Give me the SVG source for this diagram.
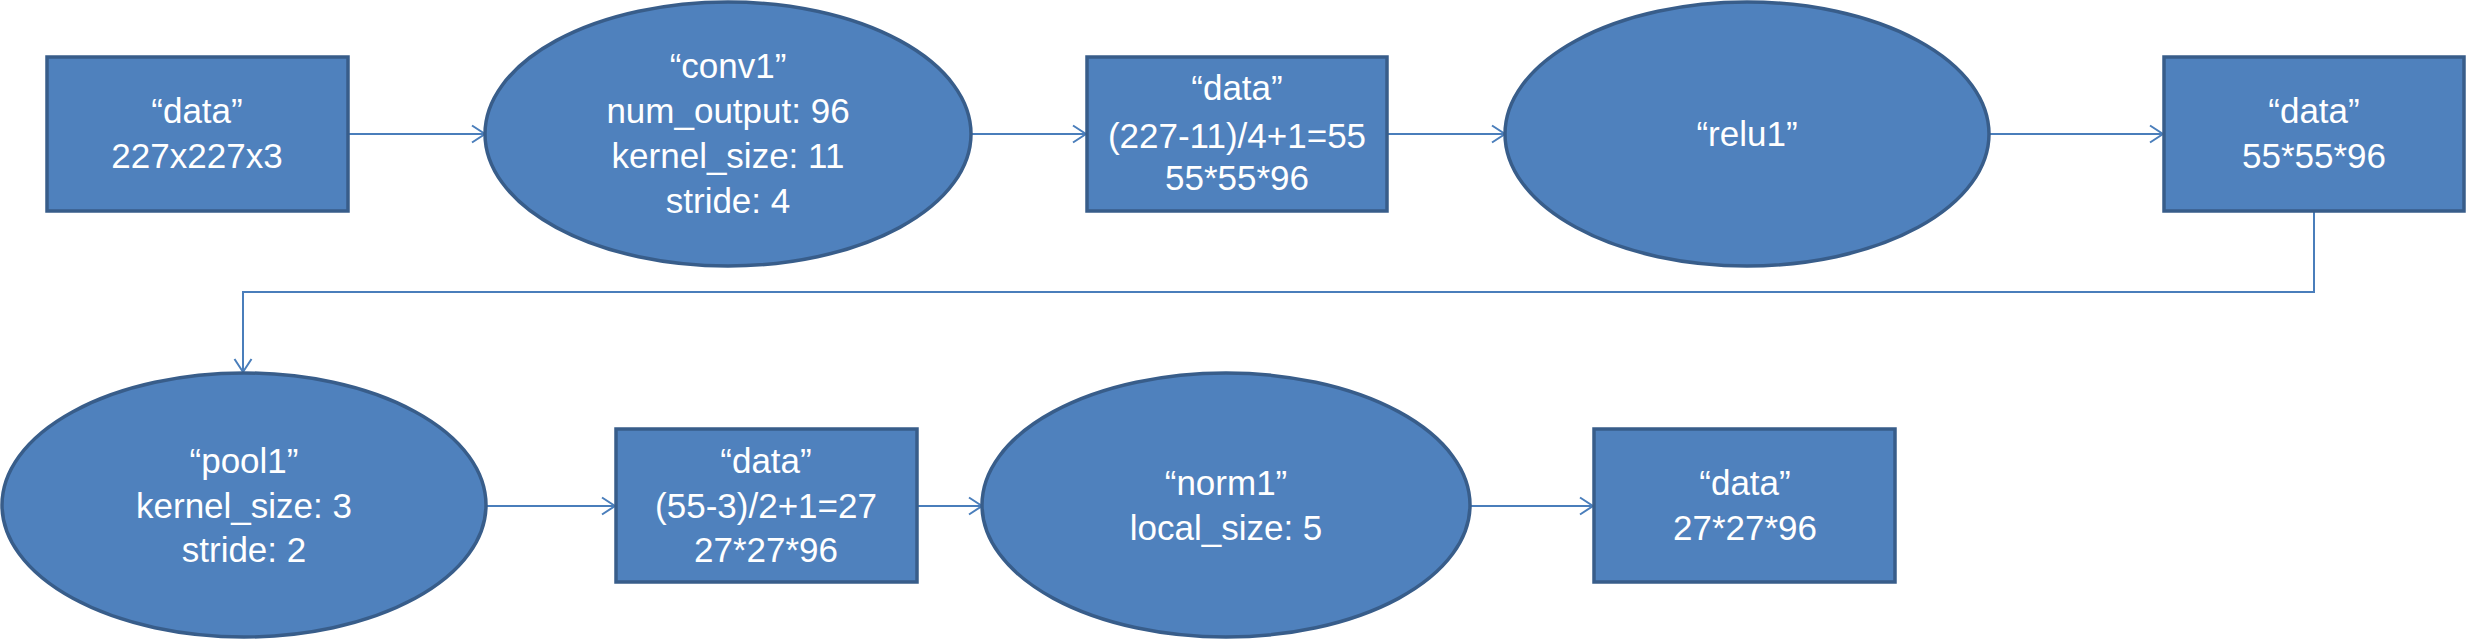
<svg xmlns="http://www.w3.org/2000/svg" width="2467" height="640" viewBox="0 0 2467 640">
<defs>
<style>
.node{fill:#4F81BD;stroke:#385D8A;stroke-width:3.5}
.t{font-family:"Liberation Sans",Arial,sans-serif;font-size:35px;fill:#FFFFFF;text-anchor:middle}
.c{fill:none;stroke:#4A7EBB;stroke-width:2}
</style>
<marker id="arr" markerUnits="userSpaceOnUse" markerWidth="20" markerHeight="20" viewBox="-16 -10 20 20" refX="0" refY="0" orient="auto">
<path d="M-13,-8.5 L0,0 L-13,8.5" fill="none" stroke="#4A7EBB" stroke-width="2"/>
</marker>
</defs>
<rect width="2467" height="640" fill="#FFFFFF"/>
<g id="connectors">
<line class="c" x1="349" y1="134" x2="485" y2="134" marker-end="url(#arr)"/>
<line class="c" x1="972" y1="134" x2="1086" y2="134" marker-end="url(#arr)"/>
<line class="c" x1="1388" y1="134" x2="1505" y2="134" marker-end="url(#arr)"/>
<line class="c" x1="1990" y1="134" x2="2163" y2="134" marker-end="url(#arr)"/>
<path class="c" d="M2314,212 V292 H243 V372" marker-end="url(#arr)"/>
<line class="c" x1="486" y1="506" x2="615" y2="506" marker-end="url(#arr)"/>
<line class="c" x1="918" y1="506" x2="982" y2="506" marker-end="url(#arr)"/>
<line class="c" x1="1471" y1="506" x2="1593" y2="506" marker-end="url(#arr)"/>
</g>
<g id="data1">
<rect class="node" x="47" y="57" width="301" height="154"/>
<text class="t" x="197" y="123">“data”</text>
<text class="t" x="197" y="168">227x227x3</text>
</g>
<g id="conv1">
<ellipse class="node" cx="728" cy="134" rx="243" ry="132"/>
<text class="t" x="728" y="78">“conv1”</text>
<text class="t" x="728" y="123">num_output: 96</text>
<text class="t" x="728" y="168">kernel_size: 11</text>
<text class="t" x="728" y="213">stride: 4</text>
</g>
<g id="data2">
<rect class="node" x="1087" y="57" width="300" height="154"/>
<text class="t" x="1237" y="100">“data”</text>
<text class="t" x="1237" y="148">(227-11)/4+1=55</text>
<text class="t" x="1237" y="190">55*55*96</text>
</g>
<g id="relu1">
<ellipse class="node" cx="1747" cy="134" rx="242" ry="132"/>
<text class="t" x="1747" y="146">“relu1”</text>
</g>
<g id="data3">
<rect class="node" x="2164" y="57" width="300" height="154"/>
<text class="t" x="2314" y="123">“data”</text>
<text class="t" x="2314" y="168">55*55*96</text>
</g>
<g id="pool1">
<ellipse class="node" cx="244" cy="505" rx="242" ry="132"/>
<text class="t" x="244" y="473">“pool1”</text>
<text class="t" x="244" y="518">kernel_size: 3</text>
<text class="t" x="244" y="562">stride: 2</text>
</g>
<g id="data4">
<rect class="node" x="616" y="429" width="301" height="153"/>
<text class="t" x="766" y="473">“data”</text>
<text class="t" x="766" y="518">(55-3)/2+1=27</text>
<text class="t" x="766" y="562">27*27*96</text>
</g>
<g id="norm1">
<ellipse class="node" cx="1226" cy="505" rx="244" ry="132"/>
<text class="t" x="1226" y="495">“norm1”</text>
<text class="t" x="1226" y="540">local_size: 5</text>
</g>
<g id="data5">
<rect class="node" x="1594" y="429" width="301" height="153"/>
<text class="t" x="1745" y="495">“data”</text>
<text class="t" x="1745" y="540">27*27*96</text>
</g>
</svg>
